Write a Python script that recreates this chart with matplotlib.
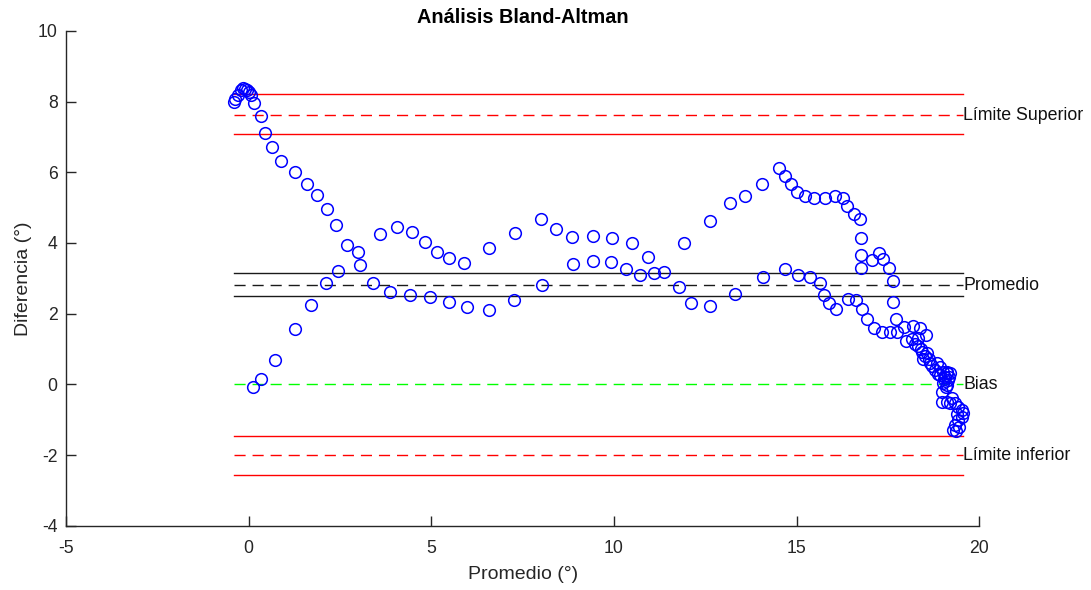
import matplotlib
matplotlib.use("Agg")
import matplotlib.pyplot as plt

plt.rcParams['font.family'] = ['Liberation Sans', 'DejaVu Sans']
plt.rcParams['axes.unicode_minus'] = False

# Mean of the two measurements (x) and their difference (y), in degrees
promedio = [
    -0.41, -0.36, -0.28, -0.22, -0.16, -0.10, -0.04, 0.02, 0.07, 0.14,
    0.33, 0.44, 0.63, 0.88, 1.26, 1.59, 1.88, 2.14, 2.40, 2.70, 2.99, 3.04,
    0.11, 0.33, 0.71, 1.26, 1.70, 2.11, 2.44,
    3.40, 3.86, 4.41, 4.96, 5.48, 5.97, 6.58, 7.26, 8.03,
    3.59, 4.05, 4.47, 4.82, 5.15, 5.48, 5.89, 6.58, 7.29, 8.00, 8.41, 8.85,
    9.44, 9.96, 10.49, 10.93, 11.92, 12.63, 13.18, 13.59, 14.05, 14.52,
    14.68, 14.85, 15.01, 15.23, 15.48, 15.78, 16.05, 16.27, 16.38, 16.58,
    16.74, 16.77, 16.77, 16.77, 17.07, 17.26, 17.37, 17.53, 17.64, 17.64, 17.72,
    8.88, 9.44, 9.92, 10.33, 10.71, 11.10, 11.37, 11.78, 12.11, 12.63,
    13.32, 14.08, 14.68, 15.04, 15.37, 15.64, 15.75, 15.89, 16.08, 16.41,
    16.63, 16.79, 16.93, 17.12, 17.34, 17.56, 17.75,
    17.95, 18.19, 18.38, 18.00, 18.16, 18.33, 18.55, 18.33, 18.44, 18.58,
    18.47, 18.66, 18.85, 18.79, 18.93, 19.01, 19.12, 19.21, 19.07, 19.15,
    19.01, 19.12, 18.93, 19.12, 18.99, 18.99, 19.12, 19.21, 19.34, 19.42,
    19.53, 19.56, 19.53, 19.42, 19.34, 19.29, 19.37,
    18.25, 18.40, 18.52, 18.62, 18.72, 18.87, 19.05, 19.18, 19.08, 19.25,
    19.40, 19.45,
]
diferencia = [
    7.99, 8.08, 8.18, 8.32, 8.40, 8.37, 8.34, 8.27, 8.18, 7.96,
    7.58, 7.10, 6.72, 6.31, 6.00, 5.67, 5.36, 4.97, 4.52, 3.94, 3.75, 3.38,
    -0.08, 0.15, 0.69, 1.57, 2.25, 2.87, 3.21,
    2.87, 2.61, 2.53, 2.47, 2.33, 2.19, 2.11, 2.38, 2.81,
    4.25, 4.44, 4.31, 4.03, 3.75, 3.57, 3.43, 3.86, 4.28, 4.67, 4.39, 4.17,
    4.21, 4.13, 3.99, 3.60, 3.99, 4.63, 5.13, 5.33, 5.67, 6.12,
    5.89, 5.67, 5.45, 5.33, 5.27, 5.27, 5.33, 5.27, 5.05, 4.82,
    4.67, 4.14, 3.67, 3.29, 3.51, 3.71, 3.55, 3.29, 2.92, 2.33, 1.86,
    3.40, 3.49, 3.46, 3.26, 3.10, 3.15, 3.18, 2.76, 2.30, 2.22,
    2.56, 3.03, 3.26, 3.10, 3.03, 2.87, 2.53, 2.30, 2.14, 2.42,
    2.38, 2.14, 1.85, 1.60, 1.48, 1.48, 1.48,
    1.63, 1.65, 1.59, 1.23, 1.28, 1.31, 1.40, 1.08, 0.92, 0.89,
    0.71, 0.60, 0.60, 0.41, 0.49, 0.35, 0.35, 0.32, 0.21, 0.12,
    0.04, -0.02, 0.26, 0.32, -0.21, -0.50, -0.50, -0.53, -0.53, -0.64,
    -0.73, -0.82, -0.92, -1.01, -1.15, -1.29, -1.32,
    1.15, 1.00, 0.80, 0.72, 0.52, 0.28, 0.15, 0.22, -0.08, -0.38,
    -0.85, -1.20,
]

# Agreement statistics
bias = 0.0
media = 2.81
media_ic = (2.50, 3.15)
limite_sup = 7.62
limite_sup_ic = (7.08, 8.22)
limite_inf = -2.00
limite_inf_ic = (-2.57, -1.46)

etiquetas = ["Límite Superior", "Promedio", "Bias", "Límite inferior"]
x_ticks = [-5, 0, 5, 10, 15, 20]
y_ticks = [-4, -2, 0, 2, 4, 6, 8, 10]

fig = plt.figure(figsize=(10.91, 5.90), dpi=100)
ax = fig.add_axes([0.0605, 0.109, 0.837, 0.8385])

x0, x1 = min(promedio), max(promedio)
dash = (0, (8, 5))

ax.plot(promedio, diferencia, linestyle='none', marker='o', markersize=8.4,
        markerfacecolor='none', markeredgecolor='#0000ff', markeredgewidth=1.1,
        zorder=3)

# Limits of agreement with their confidence bands
for centro, (lo, hi) in ((limite_sup, limite_sup_ic), (limite_inf, limite_inf_ic)):
    ax.plot([x0, x1], [hi, hi], color='#ff0000', lw=1.0)
    ax.plot([x0, x1], [centro, centro], color='#ff0000', lw=1.0, linestyle=dash)
    ax.plot([x0, x1], [lo, lo], color='#ff0000', lw=1.0)

ax.plot([x0, x1], [media_ic[1]] * 2, color='#1a1a1a', lw=1.0)
ax.plot([x0, x1], [media, media], color='#1a1a1a', lw=1.0, linestyle=dash)
ax.plot([x0, x1], [media_ic[0]] * 2, color='#1a1a1a', lw=1.0)
ax.plot([x0, x1], [bias, bias], color='#00ff00', lw=1.0, linestyle=dash)

for texto, valor in zip(etiquetas, [limite_sup, media, bias, limite_inf]):
    ax.text(x1, valor, texto, ha='left', va='center', fontsize=12.8,
            color='#111111', clip_on=False)

ax.set_xlim(-5, 20)
ax.set_ylim(-4, 10)
ax.set_xticks(x_ticks)
ax.set_yticks(y_ticks)
ax.spines['top'].set_visible(False)
ax.spines['right'].set_visible(False)
for s in ('left', 'bottom'):
    ax.spines[s].set_color('#262626')
    ax.spines[s].set_linewidth(1.0)
ax.tick_params(direction='in', length=7, width=1.0, color='#262626',
               labelcolor='#262626', labelsize=12.7)
ax.tick_params(axis='x', pad=10)
ax.tick_params(axis='y', pad=6)

ax.set_title("Análisis Bland-Altman", fontsize=14.3, fontweight='bold',
             color='#000000', pad=6)
ax.set_xlabel("Promedio (°)", fontsize=14, color='#262626', labelpad=7)
ax.set_ylabel("Diferencia (°)", fontsize=14, color='#262626', labelpad=4)

fig.savefig("out.png", dpi=100)
